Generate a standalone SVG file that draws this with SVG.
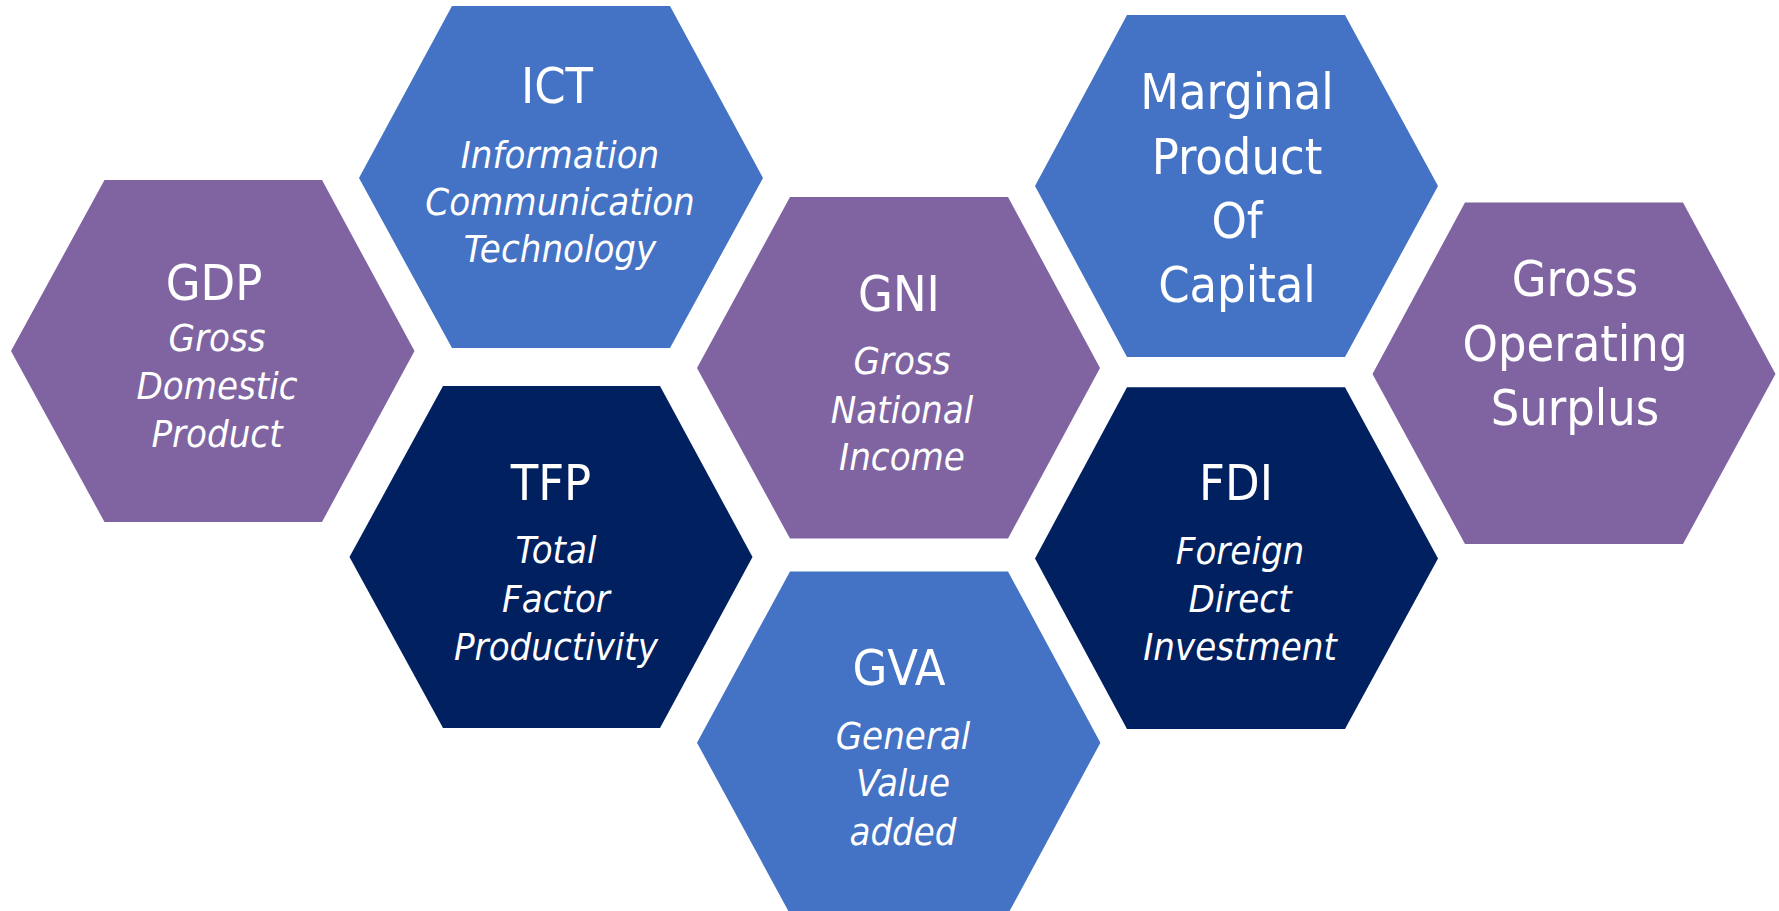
<svg xmlns="http://www.w3.org/2000/svg" width="1779" height="911" viewBox="0 0 1779 911">
  <style>
    .purple { fill: #8064A2; }
    .blue { fill: #4472C4; }
    .navy { fill: #002060; }
    text { fill: #FFFFFF; text-anchor: middle; font-family: "DejaVu Sans Condensed", "DejaVu Sans", sans-serif; font-stretch: condensed; }
    .title { font-size: 50px; }
    .sub { font-size: 38px; font-style: italic; }
  </style>
  <rect width="1779" height="911" fill="#FFFFFF"/>

  <g id="gdp">
    <polygon class="purple" points="11,351 104.5,180 322,180 414.5,351 322,522 104.5,522"/>
    <text class="title" x="214" y="299.6">GDP</text>
    <text class="sub" x="217" y="350.5">Gross</text>
    <text class="sub" x="217" y="398.8">Domestic</text>
    <text class="sub" x="217" y="446.6">Product</text>
  </g>

  <g id="ict">
    <polygon class="blue" points="359,178 452,6 670,6 763,178 670,348 452,348"/>
    <text class="title" x="557" y="103.3">ICT</text>
    <text class="sub" x="560" y="167.7">Information</text>
    <text class="sub" x="560" y="215.2">Communication</text>
    <text class="sub" x="560" y="262.4">Technology</text>
  </g>

  <g id="tfp">
    <polygon class="navy" points="349.5,557 443,386 660,386 752.5,557 660,728 443,728"/>
    <text class="title" x="551" y="500.1">TFP</text>
    <text class="sub" x="556" y="563.2">Total</text>
    <text class="sub" x="556" y="611.5">Factor</text>
    <text class="sub" x="556" y="659.9">Productivity</text>
  </g>

  <g id="gni">
    <polygon class="purple" points="697,368 790,197 1008,197 1100,368 1008,538.6 790,538.6"/>
    <text class="title" x="899" y="310.7">GNI</text>
    <text class="sub" x="902" y="374.3">Gross</text>
    <text class="sub" x="902" y="422.5">National</text>
    <text class="sub" x="902" y="470.4">Income</text>
  </g>

  <g id="gva">
    <polygon class="blue" points="697,742.7 790,571.5 1008,571.5 1100.4,742.7 1008,914 790,914"/>
    <text class="title" x="899" y="684.7">GVA</text>
    <text class="sub" x="903" y="748.5">General</text>
    <text class="sub" x="903" y="796.2">Value</text>
    <text class="sub" x="903" y="844.5">added</text>
  </g>

  <g id="mpc">
    <polygon class="blue" points="1035,186 1127,15 1345,15 1438,186 1345,357 1127,357"/>
    <text class="title" x="1237" y="108.9">Marginal</text>
    <text class="title" x="1237" y="174">Product</text>
    <text class="title" x="1237" y="237.5">Of</text>
    <text class="title" x="1237" y="301.8">Capital</text>
  </g>

  <g id="fdi">
    <polygon class="navy" points="1035,558.4 1127,387.3 1345,387.3 1438,558.4 1345,729 1127,729"/>
    <text class="title" x="1236" y="500.1">FDI</text>
    <text class="sub" x="1240" y="563.9">Foreign</text>
    <text class="sub" x="1240" y="611.5">Direct</text>
    <text class="sub" x="1240" y="659.9">Investment</text>
  </g>

  <g id="gos">
    <polygon class="purple" points="1372.5,374 1465,202.5 1683,202.5 1775.5,374 1683,544 1465,544"/>
    <text class="title" x="1575" y="296.4">Gross</text>
    <text class="title" x="1575" y="360.7">Operating</text>
    <text class="title" x="1575" y="425">Surplus</text>
  </g>

  <g id="connectors"/>
</svg>
